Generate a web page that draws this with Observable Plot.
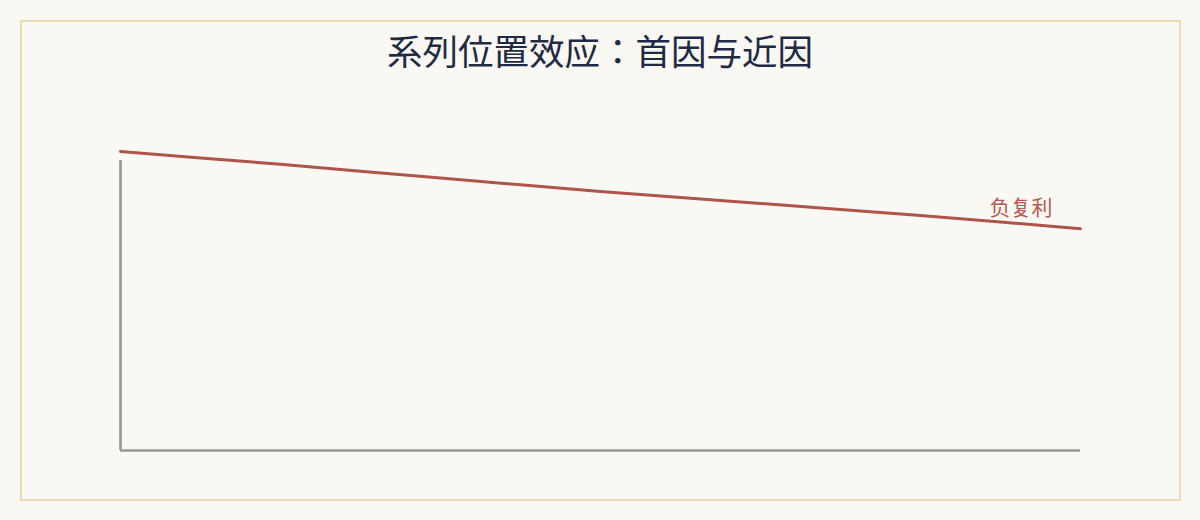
<!DOCTYPE html>
<html>
<head>
<meta charset="utf-8">
<script src="https://cdn.jsdelivr.net/npm/d3@7"></script>
<script src="https://cdn.jsdelivr.net/npm/@observablehq/plot@0.6"></script>
<style>
  html, body { margin: 0; padding: 0; background: #f9f8f3; }
  #wrap { position: relative; width: 1200px; height: 520px; overflow: hidden; }
  #frame { position: absolute; left: 20px; top: 20px; width: 1157px; height: 477px; border: 2px solid #ebdcb4; box-sizing: content-box; }
  #title { position: absolute; left: 0; top: 29px; width: 1200px; text-align: center;
           font-family: "Noto Sans CJK JP", "Noto Sans CJK SC", sans-serif; font-size: 35.5px; line-height: 42px; color: #1f2a44; }
  #chart { position: absolute; left: 0; top: 0; }
</style>
</head>
<body>
<div id="wrap">
  <div id="frame"></div>
  <div id="title">系列位置效应：首因与近因</div>
  <div id="chart"></div>
</div>
<script>
const titleText = "系列位置效应：首因与近因";
const seriesLabel = "负复利";
const steps = [0, 1, 2, 3, 4, 5, 6, 7, 8, 9, 10, 11, 12];
const values = [103.1, 100.9, 98.7, 96.3, 94.0, 91.6, 89.3, 87.2, 85.2, 83.1, 81.0, 78.8, 76.5];

const data = steps.map((s, i) => ({step: s, value: values[i]}));
const last = data[data.length - 1];

const chart = Plot.plot({
  width: 1200,
  height: 520,
  marginLeft: 120,
  marginRight: 120,
  marginTop: 160,
  marginBottom: 70,
  x: {domain: [0, 12], axis: null},
  y: {domain: [0, 100], axis: null},
  style: {background: "transparent", fontFamily: "'Noto Sans CJK JP', 'Noto Sans CJK SC', sans-serif"},
  marks: [
    Plot.ruleX([0], {y1: 0, y2: 100, stroke: "#97979c", strokeWidth: 2.6}),
    Plot.ruleY([0], {x1: 0, x2: 12, stroke: "#97979c", strokeWidth: 2.6}),
    Plot.line(data, {x: "step", y: "value", stroke: "#ad5549", strokeWidth: 3}),
    Plot.text([last], {x: "step", y: "value", text: () => seriesLabel, textAnchor: "end",
      dx: -28, dy: -20, fill: "#b65a4f", fontSize: 21})
  ]
});
document.getElementById("chart").appendChild(chart);
</script>
</body>
</html>
